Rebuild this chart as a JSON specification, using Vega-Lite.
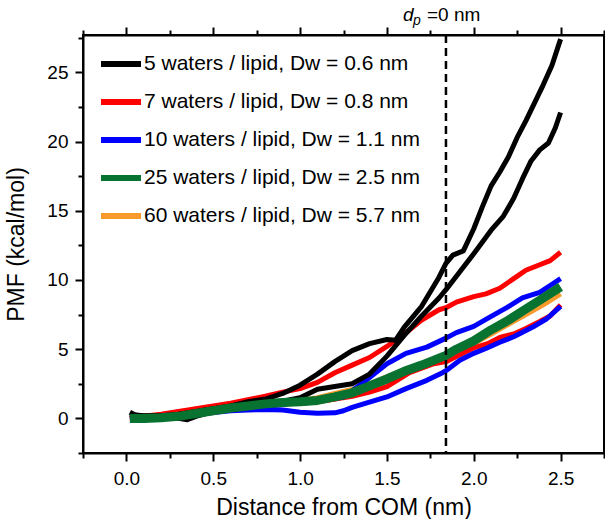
{
"$schema": "https://vega.github.io/schema/vega-lite/v6.json",
"width": 521, "height": 418,
"autosize": "none",
"padding": {"left": 83, "top": 35, "right": 1, "bottom": 66},
"config": {
  "font": "Liberation Sans",
  "view": {"stroke": "#000", "strokeWidth": 2},
  "axis": {"grid": false, "domainColor": "#000", "tickColor": "#000", "labelColor": "#000", "titleColor": "#000", "tickWidth": 2, "domainWidth": 2, "labelFont": "Liberation Sans", "titleFont": "Liberation Sans", "titleFontWeight": "normal", "labelFlush": false, "labelOverlap": false},
  "text": {"font": "Liberation Sans", "color": "#000"}
},
"datasets": {"pmf": [
{"n":60,"s":1,"x":0.02,"y":0.1},{"n":60,"s":1,"x":0.1,"y":0.05},{"n":60,"s":1,"x":0.2,"y":0.1},{"n":60,"s":1,"x":0.3,"y":0.2},{"n":60,"s":1,"x":0.4,"y":0.4},{"n":60,"s":1,"x":0.5,"y":0.6},{"n":60,"s":1,"x":0.6,"y":0.8},{"n":60,"s":1,"x":0.7,"y":0.95},{"n":60,"s":1,"x":0.8,"y":1.1},{"n":60,"s":1,"x":0.9,"y":1.2},{"n":60,"s":1,"x":1.0,"y":1.3},{"n":60,"s":1,"x":1.1,"y":1.5},{"n":60,"s":1,"x":1.2,"y":1.8},{"n":60,"s":1,"x":1.3,"y":2.1},{"n":60,"s":1,"x":1.4,"y":2.5},{"n":60,"s":1,"x":1.5,"y":3.0},{"n":60,"s":1,"x":1.6,"y":3.5},{"n":60,"s":1,"x":1.7,"y":3.9},{"n":60,"s":1,"x":1.8,"y":4.4},{"n":60,"s":1,"x":1.9,"y":5.0},{"n":60,"s":1,"x":2.0,"y":5.7},{"n":60,"s":1,"x":2.1,"y":6.4},{"n":60,"s":1,"x":2.2,"y":7.1},{"n":60,"s":1,"x":2.3,"y":7.9},{"n":60,"s":1,"x":2.4,"y":8.6},{"n":60,"s":1,"x":2.5,"y":9.4},
{"n":60,"s":2,"x":0.02,"y":0.0},{"n":60,"s":2,"x":0.1,"y":0.0},{"n":60,"s":2,"x":0.2,"y":0.0},{"n":60,"s":2,"x":0.3,"y":0.1},{"n":60,"s":2,"x":0.4,"y":0.3},{"n":60,"s":2,"x":0.5,"y":0.5},{"n":60,"s":2,"x":0.6,"y":0.7},{"n":60,"s":2,"x":0.7,"y":0.85},{"n":60,"s":2,"x":0.8,"y":1.0},{"n":60,"s":2,"x":0.9,"y":1.05},{"n":60,"s":2,"x":1.0,"y":1.1},{"n":60,"s":2,"x":1.1,"y":1.2},{"n":60,"s":2,"x":1.2,"y":1.4},{"n":60,"s":2,"x":1.3,"y":1.7},{"n":60,"s":2,"x":1.4,"y":2.2},{"n":60,"s":2,"x":1.5,"y":2.7},{"n":60,"s":2,"x":1.6,"y":3.2},{"n":60,"s":2,"x":1.7,"y":3.7},{"n":60,"s":2,"x":1.8,"y":4.2},{"n":60,"s":2,"x":1.9,"y":4.8},{"n":60,"s":2,"x":2.0,"y":5.4},{"n":60,"s":2,"x":2.1,"y":6.1},{"n":60,"s":2,"x":2.2,"y":6.8},{"n":60,"s":2,"x":2.3,"y":7.5},{"n":60,"s":2,"x":2.4,"y":8.2},{"n":60,"s":2,"x":2.5,"y":9.0},
{"n":7,"s":1,"x":0.02,"y":0.1},{"n":7,"s":1,"x":0.1,"y":0.15},{"n":7,"s":1,"x":0.2,"y":0.3},{"n":7,"s":1,"x":0.3,"y":0.5},{"n":7,"s":1,"x":0.4,"y":0.7},{"n":7,"s":1,"x":0.5,"y":0.9},{"n":7,"s":1,"x":0.6,"y":1.1},{"n":7,"s":1,"x":0.7,"y":1.35},{"n":7,"s":1,"x":0.8,"y":1.6},{"n":7,"s":1,"x":0.9,"y":1.9},{"n":7,"s":1,"x":1.0,"y":2.15},{"n":7,"s":1,"x":1.1,"y":2.6},{"n":7,"s":1,"x":1.2,"y":3.3},{"n":7,"s":1,"x":1.3,"y":3.85},{"n":7,"s":1,"x":1.4,"y":4.4},{"n":7,"s":1,"x":1.5,"y":5.2},{"n":7,"s":1,"x":1.6,"y":6.1},{"n":7,"s":1,"x":1.7,"y":7.1},{"n":7,"s":1,"x":1.8,"y":7.85},{"n":7,"s":1,"x":1.84,"y":8.0},{"n":7,"s":1,"x":1.9,"y":8.4},{"n":7,"s":1,"x":2.0,"y":8.8},{"n":7,"s":1,"x":2.07,"y":9.0},{"n":7,"s":1,"x":2.15,"y":9.4},{"n":7,"s":1,"x":2.23,"y":10.1},{"n":7,"s":1,"x":2.3,"y":10.7},{"n":7,"s":1,"x":2.38,"y":11.1},{"n":7,"s":1,"x":2.44,"y":11.4},{"n":7,"s":1,"x":2.5,"y":12.0},
{"n":7,"s":2,"x":0.02,"y":0.05},{"n":7,"s":2,"x":0.2,"y":0.2},{"n":7,"s":2,"x":0.4,"y":0.5},{"n":7,"s":2,"x":0.6,"y":0.8},{"n":7,"s":2,"x":0.8,"y":1.0},{"n":7,"s":2,"x":1.0,"y":1.1},{"n":7,"s":2,"x":1.1,"y":1.2},{"n":7,"s":2,"x":1.2,"y":1.4},{"n":7,"s":2,"x":1.3,"y":1.6},{"n":7,"s":2,"x":1.4,"y":1.9},{"n":7,"s":2,"x":1.5,"y":2.3},{"n":7,"s":2,"x":1.63,"y":3.3},{"n":7,"s":2,"x":1.77,"y":3.95},{"n":7,"s":2,"x":1.84,"y":4.1},{"n":7,"s":2,"x":1.92,"y":4.6},{"n":7,"s":2,"x":2.0,"y":5.1},{"n":7,"s":2,"x":2.08,"y":5.4},{"n":7,"s":2,"x":2.15,"y":5.85},{"n":7,"s":2,"x":2.23,"y":6.1},{"n":7,"s":2,"x":2.3,"y":6.5},{"n":7,"s":2,"x":2.38,"y":7.0},{"n":7,"s":2,"x":2.44,"y":7.4},{"n":7,"s":2,"x":2.5,"y":8.2},
{"n":10,"s":1,"x":0.02,"y":0.0},{"n":10,"s":1,"x":0.2,"y":0.1},{"n":10,"s":1,"x":0.4,"y":0.4},{"n":10,"s":1,"x":0.6,"y":0.7},{"n":10,"s":1,"x":0.8,"y":0.9},{"n":10,"s":1,"x":0.9,"y":1.0},{"n":10,"s":1,"x":1.0,"y":1.2},{"n":10,"s":1,"x":1.1,"y":1.35},{"n":10,"s":1,"x":1.2,"y":1.45},{"n":10,"s":1,"x":1.25,"y":1.55},{"n":10,"s":1,"x":1.3,"y":2.0},{"n":10,"s":1,"x":1.38,"y":2.75},{"n":10,"s":1,"x":1.5,"y":3.95},{"n":10,"s":1,"x":1.61,"y":4.7},{"n":10,"s":1,"x":1.73,"y":5.15},{"n":10,"s":1,"x":1.84,"y":5.8},{"n":10,"s":1,"x":1.9,"y":6.2},{"n":10,"s":1,"x":2.0,"y":6.65},{"n":10,"s":1,"x":2.09,"y":7.3},{"n":10,"s":1,"x":2.19,"y":8.0},{"n":10,"s":1,"x":2.28,"y":8.7},{"n":10,"s":1,"x":2.38,"y":9.1},{"n":10,"s":1,"x":2.44,"y":9.6},{"n":10,"s":1,"x":2.5,"y":10.1},
{"n":10,"s":2,"x":0.02,"y":0.0},{"n":10,"s":2,"x":0.2,"y":0.05},{"n":10,"s":2,"x":0.4,"y":0.3},{"n":10,"s":2,"x":0.6,"y":0.55},{"n":10,"s":2,"x":0.7,"y":0.6},{"n":10,"s":2,"x":0.8,"y":0.65},{"n":10,"s":2,"x":0.9,"y":0.6},{"n":10,"s":2,"x":1.0,"y":0.45},{"n":10,"s":2,"x":1.1,"y":0.38},{"n":10,"s":2,"x":1.2,"y":0.4},{"n":10,"s":2,"x":1.25,"y":0.55},{"n":10,"s":2,"x":1.3,"y":0.8},{"n":10,"s":2,"x":1.38,"y":1.1},{"n":10,"s":2,"x":1.5,"y":1.55},{"n":10,"s":2,"x":1.61,"y":2.15},{"n":10,"s":2,"x":1.73,"y":2.75},{"n":10,"s":2,"x":1.82,"y":3.3},{"n":10,"s":2,"x":1.84,"y":3.45},{"n":10,"s":2,"x":1.92,"y":4.2},{"n":10,"s":2,"x":2.0,"y":4.7},{"n":10,"s":2,"x":2.07,"y":5.05},{"n":10,"s":2,"x":2.15,"y":5.5},{"n":10,"s":2,"x":2.23,"y":5.9},{"n":10,"s":2,"x":2.34,"y":6.6},{"n":10,"s":2,"x":2.42,"y":7.2},{"n":10,"s":2,"x":2.5,"y":8.1},
{"n":5,"s":1,"x":0.02,"y":0.45},{"n":5,"s":1,"x":0.05,"y":0.25},{"n":5,"s":1,"x":0.1,"y":0.2},{"n":5,"s":1,"x":0.2,"y":0.2},{"n":5,"s":1,"x":0.3,"y":0.3},{"n":5,"s":1,"x":0.4,"y":0.5},{"n":5,"s":1,"x":0.5,"y":0.7},{"n":5,"s":1,"x":0.6,"y":0.9},{"n":5,"s":1,"x":0.7,"y":1.2},{"n":5,"s":1,"x":0.8,"y":1.4},{"n":5,"s":1,"x":0.9,"y":1.8},{"n":5,"s":1,"x":1.0,"y":2.4},{"n":5,"s":1,"x":1.1,"y":3.2},{"n":5,"s":1,"x":1.2,"y":4.1},{"n":5,"s":1,"x":1.3,"y":4.9},{"n":5,"s":1,"x":1.4,"y":5.4},{"n":5,"s":1,"x":1.5,"y":5.7},{"n":5,"s":1,"x":1.55,"y":5.65},{"n":5,"s":1,"x":1.6,"y":6.6},{"n":5,"s":1,"x":1.7,"y":8.1},{"n":5,"s":1,"x":1.8,"y":10.2},{"n":5,"s":1,"x":1.84,"y":11.2},{"n":5,"s":1,"x":1.88,"y":11.8},{"n":5,"s":1,"x":1.94,"y":12.1},{"n":5,"s":1,"x":2.0,"y":13.7},{"n":5,"s":1,"x":2.05,"y":15.3},{"n":5,"s":1,"x":2.1,"y":16.8},{"n":5,"s":1,"x":2.15,"y":17.8},{"n":5,"s":1,"x":2.2,"y":18.9},{"n":5,"s":1,"x":2.25,"y":20.3},{"n":5,"s":1,"x":2.3,"y":21.5},{"n":5,"s":1,"x":2.35,"y":22.8},{"n":5,"s":1,"x":2.4,"y":24.1},{"n":5,"s":1,"x":2.45,"y":25.5},{"n":5,"s":1,"x":2.5,"y":27.4},
{"n":5,"s":2,"x":0.02,"y":0.3},{"n":5,"s":2,"x":0.1,"y":0.15},{"n":5,"s":2,"x":0.2,"y":0.15},{"n":5,"s":2,"x":0.3,"y":0.0},{"n":5,"s":2,"x":0.35,"y":-0.1},{"n":5,"s":2,"x":0.4,"y":0.15},{"n":5,"s":2,"x":0.5,"y":0.5},{"n":5,"s":2,"x":0.6,"y":0.8},{"n":5,"s":2,"x":0.7,"y":1.1},{"n":5,"s":2,"x":0.8,"y":1.2},{"n":5,"s":2,"x":0.9,"y":1.25},{"n":5,"s":2,"x":1.0,"y":1.5},{"n":5,"s":2,"x":1.1,"y":2.1},{"n":5,"s":2,"x":1.2,"y":2.3},{"n":5,"s":2,"x":1.3,"y":2.5},{"n":5,"s":2,"x":1.4,"y":3.2},{"n":5,"s":2,"x":1.5,"y":4.5},{"n":5,"s":2,"x":1.6,"y":6.0},{"n":5,"s":2,"x":1.7,"y":7.4},{"n":5,"s":2,"x":1.8,"y":8.7},{"n":5,"s":2,"x":1.84,"y":9.3},{"n":5,"s":2,"x":1.92,"y":10.6},{"n":5,"s":2,"x":2.0,"y":11.9},{"n":5,"s":2,"x":2.1,"y":13.6},{"n":5,"s":2,"x":2.17,"y":14.6},{"n":5,"s":2,"x":2.23,"y":15.9},{"n":5,"s":2,"x":2.28,"y":17.3},{"n":5,"s":2,"x":2.33,"y":18.6},{"n":5,"s":2,"x":2.38,"y":19.4},{"n":5,"s":2,"x":2.43,"y":19.9},{"n":5,"s":2,"x":2.47,"y":21.0},{"n":5,"s":2,"x":2.5,"y":22.1},
{"n":25,"s":1,"x":0.02,"y":0.0},{"n":25,"s":1,"x":0.1,"y":0.0},{"n":25,"s":1,"x":0.2,"y":0.05},{"n":25,"s":1,"x":0.3,"y":0.15},{"n":25,"s":1,"x":0.4,"y":0.35},{"n":25,"s":1,"x":0.5,"y":0.55},{"n":25,"s":1,"x":0.6,"y":0.75},{"n":25,"s":1,"x":0.7,"y":0.9},{"n":25,"s":1,"x":0.8,"y":1.05},{"n":25,"s":1,"x":0.9,"y":1.15},{"n":25,"s":1,"x":1.0,"y":1.2},{"n":25,"s":1,"x":1.1,"y":1.3},{"n":25,"s":1,"x":1.2,"y":1.55},{"n":25,"s":1,"x":1.3,"y":1.85},{"n":25,"s":1,"x":1.4,"y":2.35},{"n":25,"s":1,"x":1.5,"y":2.85},{"n":25,"s":1,"x":1.6,"y":3.4},{"n":25,"s":1,"x":1.7,"y":3.85},{"n":25,"s":1,"x":1.8,"y":4.35},{"n":25,"s":1,"x":1.84,"y":4.55},{"n":25,"s":1,"x":1.9,"y":5.0},{"n":25,"s":1,"x":2.0,"y":5.6},{"n":25,"s":1,"x":2.1,"y":6.4},{"n":25,"s":1,"x":2.2,"y":7.1},{"n":25,"s":1,"x":2.3,"y":7.9},{"n":25,"s":1,"x":2.4,"y":8.7},{"n":25,"s":1,"x":2.5,"y":9.5}
],
"dp": [{"x": 1.84, "y": 28.7}]
},
"layer": [
  {
    "data": {"name": "pmf"},
    "transform": [{"filter": "datum.n != 25"}],
    "mark": {"type": "line", "strokeCap": "butt", "strokeJoin": "round", "strokeWidth": 5},
    "encoding": {
      "x": {"field": "x", "type": "quantitative", "scale": {"domain": [-0.25, 2.75], "nice": false, "zero": false},
        "axis": {"orient": "bottom", "values": [0, 0.5, 1, 1.5, 2, 2.5], "format": ".1f", "labelFontSize": 19, "labelPadding": 8, "tickSize": 8, "title": "Distance from COM (nm)", "titleFontSize": 23, "titlePadding": 8}},
      "y": {"field": "y", "type": "quantitative", "scale": {"domain": [-2.5, 27.7], "nice": false, "zero": false},
        "axis": {"orient": "left", "values": [0, 5, 10, 15, 20, 25], "labelFontSize": 19, "labelPadding": 7, "tickSize": 8, "title": "PMF (kcal/mol)", "titleFontSize": 23, "titlePadding": 18}},
      "color": {"field": "n", "type": "nominal",
        "scale": {"domain": [5, 7, 10, 25, 60], "range": ["#000000", "#ff0000", "#0000ff", "#087330", "#f99a2c"]},
        "legend": {"orient": "none", "legendX": 15, "legendY": 6, "title": null, "symbolType": "stroke", "symbolSize": 1600, "symbolStrokeWidth": 6, "labelFontSize": 21, "labelOffset": 0, "rowPadding": 3, "padding": 0, "labelColor": "#000", "labelFont": "Liberation Sans", "labelLimit": 500,
          "labelExpr": "datum.label == '5' ? '5 waters / lipid, Dw = 0.6 nm' : datum.label == '7' ? '7 waters / lipid, Dw = 0.8 nm' : datum.label == '10' ? '10 waters / lipid, Dw = 1.1 nm' : datum.label == '25' ? '25 waters / lipid, Dw = 2.5 nm' : '60 waters / lipid, Dw = 5.7 nm'"}},
      "detail": {"field": "s", "type": "nominal"}
    }
  },
  {
    "data": {"name": "pmf"},
    "transform": [{"filter": "datum.n == 25"}],
    "mark": {"type": "line", "strokeCap": "butt", "strokeJoin": "round", "strokeWidth": 9},
    "encoding": {
      "x": {"field": "x", "type": "quantitative", "scale": {"domain": [-0.25, 2.75], "nice": false, "zero": false}, "axis": null},
      "y": {"field": "y", "type": "quantitative", "scale": {"domain": [-2.5, 27.7], "nice": false, "zero": false}, "axis": null},
      "color": {"field": "n", "type": "nominal", "scale": {"domain": [5, 7, 10, 25, 60], "range": ["#000000", "#ff0000", "#0000ff", "#087330", "#f99a2c"]}},
      "detail": {"field": "s", "type": "nominal"}
    }
  },
  {
    "data": {"name": "dp"},
    "mark": {"type": "rule", "strokeDash": [8, 5], "strokeWidth": 2.5, "color": "#000"},
    "encoding": {
      "x": {"field": "x", "type": "quantitative", "scale": {"domain": [-0.25, 2.75], "nice": false, "zero": false}, "axis": null}
    }
  },
  {
    "data": {"name": "dp"},
    "mark": {"type": "text", "text": "d", "fontStyle": "italic", "fontSize": 19, "align": "left", "baseline": "alphabetic", "dx": -43},
    "encoding": {
      "x": {"field": "x", "type": "quantitative", "scale": {"domain": [-0.25, 2.75], "nice": false, "zero": false},
        "axis": {"orient": "top", "values": [0, 0.5, 1, 1.5, 2, 2.5], "labels": false, "tickSize": 8, "domain": true, "title": null}},
      "y": {"field": "y", "type": "quantitative", "scale": {"domain": [-2.5, 27.7], "nice": false, "zero": false},
        "axis": {"orient": "left", "values": [-2.5, 2.5, 7.5, 12.5, 17.5, 22.5, 27.5], "labels": false, "tickSize": 5, "domain": false, "title": null}}
    }
  },
  {
    "data": {"name": "dp"},
    "mark": {"type": "text", "text": "p", "fontStyle": "italic", "fontSize": 14, "align": "left", "baseline": "alphabetic", "dx": -33, "dy": 4},
    "encoding": {
      "x": {"field": "x", "type": "quantitative", "scale": {"domain": [-0.25, 2.75], "nice": false, "zero": false},
        "axis": {"orient": "bottom", "values": [-0.25, 0.25, 0.75, 1.25, 1.75, 2.25, 2.75], "labels": false, "tickSize": 5, "domain": false, "title": null}},
      "y": {"field": "y", "type": "quantitative", "scale": {"domain": [-2.5, 27.7], "nice": false, "zero": false}, "axis": null}
    }
  },
  {
    "data": {"name": "dp"},
    "mark": {"type": "text", "text": "=0 nm", "fontSize": 19, "align": "left", "baseline": "alphabetic", "dx": -19},
    "encoding": {
      "x": {"field": "x", "type": "quantitative", "scale": {"domain": [-0.25, 2.75], "nice": false, "zero": false},
        "axis": {"orient": "top", "values": [-0.25, 0.25, 0.75, 1.25, 1.75, 2.25, 2.75], "labels": false, "tickSize": 5, "domain": false, "title": null}},
      "y": {"field": "y", "type": "quantitative", "scale": {"domain": [-2.5, 27.7], "nice": false, "zero": false}, "axis": null}
    }
  }
],
"resolve": {"axis": {"x": "independent", "y": "independent"}}
}
